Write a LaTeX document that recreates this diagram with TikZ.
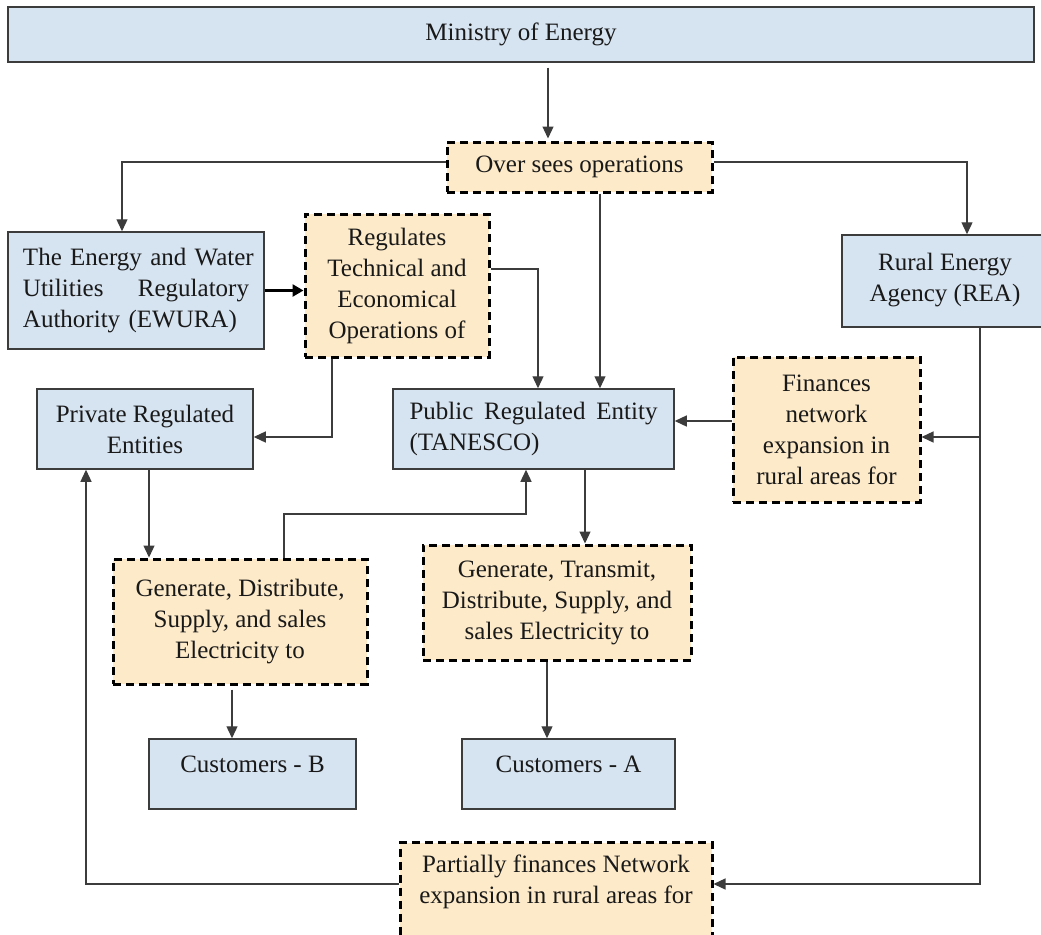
\documentclass[tikz,border=0pt]{standalone}
\usepackage{fontspec}
\setmainfont{Liberation Serif}
\usetikzlibrary{arrows.meta,calc}
\definecolor{bfill}{RGB}{214,227,240}
\definecolor{ofill}{RGB}{253,234,201}
\definecolor{edgegray}{RGB}{60,60,60}
\definecolor{txt}{RGB}{25,25,25}
\tikzset{
  bbox/.style={draw=edgegray, fill=bfill, line width=1.5pt, inner sep=0pt, align=center, text=txt},
  obox/.style={draw=black, fill=ofill, line width=3pt, dash pattern=on 8pt off 5pt, inner sep=0pt, align=center, text=txt},
  arr/.style={draw=edgegray, line width=1.3pt, -{Triangle[length=12pt,width=11pt]}},
  thickarr/.style={draw=black, line width=2.6pt, -{Triangle[length=11pt,width=12pt]}},
}
\begin{document}
\begin{tikzpicture}[x=1pt,y=-1pt,font=\fontsize{25}{31}\selectfont]
\useasboundingbox (0,0) rectangle (1041,934);
\clip (0,0) rectangle (1041,934);
% nodes
\node[bbox, minimum width=1026, minimum height=55] (min) at (521,34.5) {\raisebox{2pt}{Ministry of Energy}};
\node[obox, minimum width=265, minimum height=50] (over) at (579.5,167) {Over sees operations};
\node[bbox, minimum width=256, minimum height=117, text width=226, align=left] (ewura) at (136,290.5)
  {\mbox{The Energy and Water}\\\leavevmode\hbox to 226pt{Utilities\hfill Regulatory}\\\mbox{Authority (EWURA)}};
\node[obox, minimum width=184, minimum height=143] (reg) at (397,285.5) {Regulates\\Technical and\\Economical\\Operations of};
\node[bbox, minimum width=206, minimum height=92] (rea) at (945,281) {\raisebox{7pt}{Rural Energy}\\\raisebox{7pt}{Agency (REA)}};
\node[bbox, minimum width=216, minimum height=80] (priv) at (145,429) {Private Regulated\\Entities};
\node[bbox, minimum width=281, minimum height=80, text width=248, align=left] (pub) at (533.5,429)
  {\leavevmode\hbox to 248pt{Public\hfill Regulated\hfill Entity}\\\mbox{(TANESCO)}};
\node[obox, minimum width=187, minimum height=145] (fin) at (826.5,429.5) {Finances\\network\\expansion in\\rural areas for};
\node[obox, minimum width=254, minimum height=125] (gd) at (240,621.5) {\raisebox{5pt}{Generate, Distribute,}\\\raisebox{5pt}{Supply, and sales}\\\raisebox{5pt}{Electricity to}};
\node[obox, minimum width=268, minimum height=115] (gt) at (557,602.5) {Generate, Transmit,\\Distribute, Supply, and\\sales Electricity to};
\node[bbox, minimum width=207, minimum height=70] (cb) at (252.5,774) {\smash{\raisebox{2pt}{Customers - B}}};
\node[bbox, minimum width=213, minimum height=70] (ca) at (568.5,774) {\smash{\raisebox{2pt}{Customers - A}}};
\node[obox, minimum width=312, anchor=north, inner ysep=12pt, text depth=90pt] (part) at (556,841)
  {Partially finances Network\\expansion in rural areas for};
% helper coordinates
\coordinate (c548) at (548,0);
\coordinate (o1) at ([xshift=20.5pt]over.south);
\coordinate (r1) at ([xshift=35pt]rea.south);
\coordinate (r3) at (980,884);
\coordinate (f1) at ([yshift=-7.5pt]fin.east);
\coordinate (f2) at ([yshift=8.5pt]fin.west);
\coordinate (q1) at ([xshift=4pt]priv.south);
\coordinate (m) at (526,514);
\coordinate (t1) at ([xshift=51.5pt]pub.south);
\coordinate (g1) at ([xshift=-8pt]gd.south);
\coordinate (g2) at ([xshift=-10pt]gt.south);
% connectors
\draw[arr] ([yshift=-5pt]min.south -| c548) -- ([yshift=2pt]over.north -| c548);
\draw[arr] ([yshift=5pt]over.west) -| ([xshift=-14pt]ewura.north);
\draw[arr] ([yshift=5pt]over.east) -| ([xshift=22pt]rea.north);
\draw[arr] (o1) -- (o1 |- pub.north);
\draw[thickarr] (ewura.east) -- (ewura.east -| reg.west);
\draw[arr] ([yshift=16.5pt]reg.east) -| ([xshift=4.5pt]pub.north);
\draw[arr] ([xshift=-65pt]reg.south) |- ([yshift=-8pt]priv.east);
\draw[arr] (f2) -- (f2 -| pub.east);
\draw[arr] (r1) -- (r3) -- (r3 -| part.east);
\draw[arr] (r1 |- f1) -- (f1);
\draw[arr] (part.west |- r3) -| ([xshift=-59pt]priv.south);
\draw[arr] (q1) -- (q1 |- gd.north);
\draw[arr] ([xshift=44pt]gd.north) |- (m) -- (m |- pub.south);
\draw[arr] (t1) -- (t1 |- gt.north);
\draw[arr] ([yshift=-4pt]g1) -- (g1 |- cb.north);
\draw[arr] (g2) -- (g2 |- ca.north);
\end{tikzpicture}
\end{document}
